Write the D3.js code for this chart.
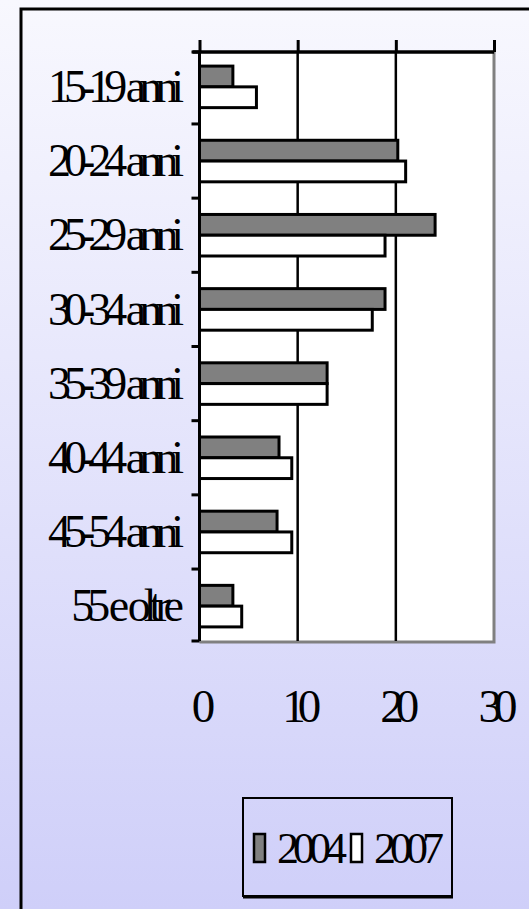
<!DOCTYPE html>
<html>
<head>
<meta charset="utf-8">
<script src="https://cdn.jsdelivr.net/npm/d3@7"></script>
<style>
  html, body { margin: 0; padding: 0; overflow: hidden; }
  svg { display: block; }
</style>
</head>
<body>
<svg id="chart" width="529" height="909"></svg>
<script>
// dati del grafico
var categories = ['15-19 anni', '20-24 anni', '25-29 anni', '30-34 anni',
                  '35-39 anni', '40-44 anni', '45-54 anni', '55 e oltre'];
var series = ['2004', '2007'];
var values2004 = [3.4, 20.2, 24.0, 18.9, 13.0, 8.1, 7.9, 3.4];
var values2007 = [5.8, 21.0, 18.9, 17.6, 13.0, 9.4, 9.4, 4.3];
var xTicks = [0, 10, 20, 30];

var W = 529, H = 909;
var font = '"Liberation Serif", "Times New Roman", serif';
var colors = { '2004': '#808080', '2007': '#ffffff' };

var svg = d3.select('#chart');

// sfondo sfumato
var grad = svg.append('defs').append('linearGradient')
    .attr('id', 'bg-grad')
    .attr('x1', 0).attr('y1', 0).attr('x2', 0).attr('y2', 1);
grad.append('stop').attr('offset', '0%').attr('stop-color', '#f8f8fe');
grad.append('stop').attr('offset', '100%').attr('stop-color', '#cfcff9');

svg.append('rect')
    .attr('width', W).attr('height', H)
    .attr('fill', 'url(#bg-grad)');

// cornice esterna
svg.append('path')
    .attr('d', 'M21,' + (H + 5) + 'V9H' + (W + 5))
    .attr('fill', 'none')
    .attr('stroke', '#000')
    .attr('stroke-width', 3);

// area del grafico
var plot = { left: 199.5, right: 494, top: 52, bottom: 641 };

var x = d3.scaleLinear()
    .domain([0, 30])
    .range([plot.left, plot.right]);

var y0 = d3.scaleBand()
    .domain(categories)
    .range([plot.top, plot.bottom])
    .paddingInner(0.44)
    .paddingOuter(0.19);

var y1 = d3.scaleBand()
    .domain(series)
    .range([0, y0.bandwidth()]);

var g = svg.append('g');

g.append('rect')
    .attr('x', plot.left).attr('y', plot.top)
    .attr('width', plot.right - plot.left)
    .attr('height', plot.bottom - plot.top)
    .attr('fill', '#fff');

// bordo grigio destro e inferiore
g.append('path')
    .attr('d', 'M' + plot.right + ',' + plot.top + 'V' + (plot.bottom + 1) + 'H' + plot.left)
    .attr('fill', 'none')
    .attr('stroke', '#808080')
    .attr('stroke-width', 3);

// griglia verticale
g.selectAll('.grid')
    .data(xTicks.slice(1, -1))
    .enter().append('line')
    .attr('x1', function (d) { return x(d); })
    .attr('x2', function (d) { return x(d); })
    .attr('y1', plot.top).attr('y2', plot.bottom)
    .attr('stroke', '#000')
    .attr('stroke-width', 2.5);

// barre
var rows = categories.map(function (c, i) {
    return { cat: c, vals: [
        { s: '2004', v: values2004[i] },
        { s: '2007', v: values2007[i] }
    ] };
});

g.selectAll('.grp')
    .data(rows)
    .enter().append('g')
    .attr('transform', function (d) { return 'translate(0,' + y0(d.cat) + ')'; })
    .selectAll('rect')
    .data(function (d) { return d.vals; })
    .enter().append('rect')
    .attr('x', x(0))
    .attr('y', function (d) { return y1(d.s); })
    .attr('width', function (d) { return x(d.v) - x(0); })
    .attr('height', y1.bandwidth())
    .attr('fill', function (d) { return colors[d.s]; })
    .attr('stroke', '#000')
    .attr('stroke-width', 3);

// asse x in alto (linea e tacche)
var xAxis = g.append('g')
    .attr('transform', 'translate(0,' + plot.top + ')')
    .call(d3.axisTop(x).tickValues(xTicks).tickSize(12).tickSizeOuter(0).tickFormat(''));
xAxis.select('.domain').attr('stroke-width', 3.5)
    .attr('d', 'M' + (plot.left - 7) + ',0H' + plot.right);
xAxis.selectAll('.tick line').attr('stroke-width', 3);

// etichette x in basso
g.selectAll('.xlab')
    .data(xTicks)
    .enter().append('text')
    .attr('x', function (d) { return x(d); })
    .attr('y', 722)
    .attr('text-anchor', 'middle')
    .attr('font-family', font)
    .attr('font-size', 47)
    .attr('letter-spacing', -8)
    .attr('fill', '#000')
    .text(function (d) { return d; });

// asse y
var bounds = categories.map(function (c) { return y0(c) - y0.step() * y0.paddingInner() / 2; });
bounds[0] = plot.top;
bounds.push(plot.bottom);

g.append('line')
    .attr('x1', plot.left).attr('x2', plot.left)
    .attr('y1', plot.top).attr('y2', plot.bottom)
    .attr('stroke', '#000')
    .attr('stroke-width', 3);

g.selectAll('.ytick')
    .data(bounds)
    .enter().append('line')
    .attr('x1', plot.left - 8).attr('x2', plot.left)
    .attr('y1', function (d) { return d; })
    .attr('y2', function (d) { return d; })
    .attr('stroke', '#000')
    .attr('stroke-width', 3);

g.selectAll('.ylab')
    .data(categories)
    .enter().append('text')
    .attr('x', 177)
    .attr('y', function (d) { return y0(d) + y0.bandwidth() / 2; })
    .attr('dy', '0.33em')
    .attr('text-anchor', 'end')
    .attr('font-family', font)
    .attr('font-size', 46)
    .attr('letter-spacing', -7)
    .attr('word-spacing', 1)
    .attr('fill', '#000')
    .text(function (d) { return d; });

// legenda
var legend = svg.append('g');
legend.append('rect')
    .attr('x', 243).attr('y', 798)
    .attr('width', 209).attr('height', 98)
    .attr('fill', 'none')
    .attr('stroke', '#000')
    .attr('stroke-width', 2);
legend.append('line')
    .attr('x1', 243).attr('x2', 453)
    .attr('y1', 897).attr('y2', 897)
    .attr('stroke', '#000')
    .attr('stroke-width', 3);

var legX = [254, 351];
var items = legend.selectAll('.item')
    .data(series)
    .enter().append('g')
    .attr('transform', function (d, i) { return 'translate(' + legX[i] + ',0)'; });
items.append('rect')
    .attr('x', 0).attr('y', 834)
    .attr('width', 11).attr('height', 28)
    .attr('fill', function (d) { return colors[d]; })
    .attr('stroke', '#000')
    .attr('stroke-width', 2.5);
items.append('text')
    .attr('x', 23).attr('y', 863)
    .attr('font-family', font)
    .attr('font-size', 44)
    .attr('letter-spacing', -6)
    .attr('fill', '#000')
    .text(function (d) { return d; });
</script>
</body>
</html>
